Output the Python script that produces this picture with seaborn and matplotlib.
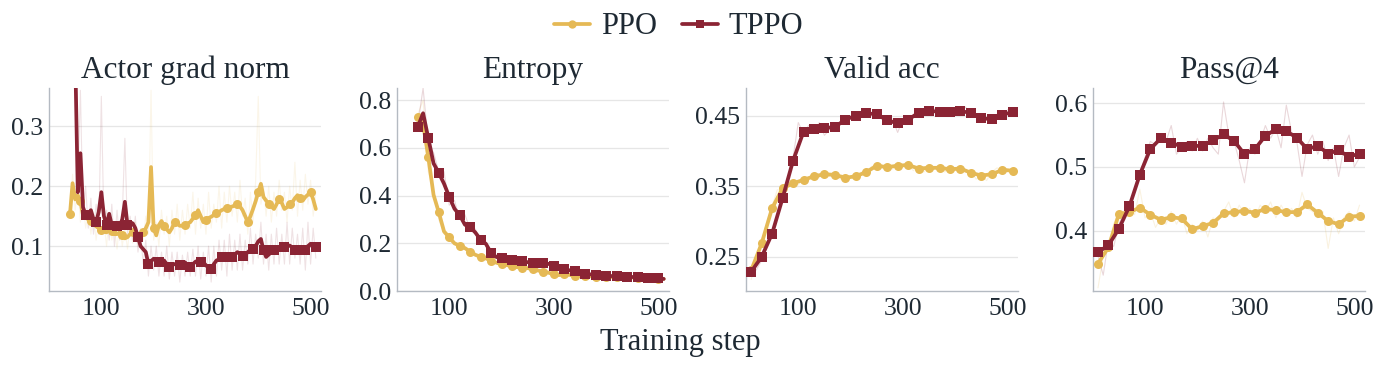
import numpy as np
import pandas as pd
import seaborn as sns
import matplotlib
matplotlib.use("Agg")
import matplotlib.pyplot as plt
from matplotlib.lines import Line2D

# ---------------- data ----------------
series_names = ["PPO", "TPPO"]
panel_titles = ["Actor grad norm", "Entropy", "Valid acc", "Pass@4"]
xtick_values = [100, 300, 500]

# Actor grad norm (smoothed, every 5 steps)
grad_steps_ppo = list(range(40, 515, 5))
grad_ppo = [0.153, 0.205, 0.178, 0.185, 0.175, 0.151, 0.147, 0.145, 0.142, 0.138,
            0.133, 0.130, 0.127, 0.124, 0.123, 0.127, 0.126, 0.120, 0.120, 0.123,
            0.118, 0.113, 0.115, 0.120, 0.123, 0.120, 0.115, 0.117, 0.123, 0.130,
            0.140, 0.232, 0.130, 0.118, 0.135, 0.142, 0.134, 0.128, 0.123, 0.130,
            0.140, 0.138, 0.134, 0.134, 0.136, 0.138, 0.140, 0.146, 0.152, 0.160,
            0.150, 0.140, 0.143, 0.147, 0.149, 0.152, 0.156, 0.157, 0.160, 0.162,
            0.163, 0.165, 0.166, 0.168, 0.171, 0.166, 0.160, 0.150, 0.140, 0.150,
            0.162, 0.175, 0.190, 0.204, 0.182, 0.176, 0.171, 0.166, 0.162, 0.170,
            0.179, 0.172, 0.162, 0.165, 0.170, 0.173, 0.180, 0.185, 0.180, 0.176,
            0.182, 0.186, 0.190, 0.178, 0.162]
grad_steps_tppo = list(range(50, 515, 5))
grad_tppo = [0.420, 0.190, 0.255, 0.165, 0.152, 0.154, 0.160, 0.145, 0.140, 0.157,
             0.190, 0.150, 0.135, 0.154, 0.135, 0.132, 0.133, 0.132, 0.145, 0.174,
             0.135, 0.140, 0.138, 0.130, 0.115, 0.100, 0.095, 0.090, 0.070, 0.075,
             0.079, 0.075, 0.073, 0.072, 0.076, 0.070, 0.065, 0.070, 0.070, 0.068,
             0.068, 0.064, 0.073, 0.068, 0.065, 0.070, 0.074, 0.076, 0.074, 0.073,
             0.068, 0.064, 0.062, 0.070, 0.076, 0.078, 0.082, 0.084, 0.081, 0.079,
             0.082, 0.086, 0.090, 0.087, 0.084, 0.086, 0.090, 0.094, 0.096, 0.100,
             0.108, 0.112, 0.093, 0.082, 0.086, 0.090, 0.093, 0.096, 0.097, 0.098,
             0.098, 0.100, 0.101, 0.098, 0.094, 0.090, 0.092, 0.093, 0.094, 0.100,
             0.104, 0.097, 0.098]
# Actor grad norm (raw)
grad_raw_ppo = [0.15, 0.22, 0.16, 0.20, 0.14, 0.17, 0.13, 0.16, 0.12, 0.155,
                0.11, 0.145, 0.12, 0.14, 0.10, 0.15, 0.11, 0.13, 0.095, 0.14,
                0.10, 0.13, 0.095, 0.135, 0.105, 0.14, 0.10, 0.13, 0.11, 0.15,
                0.12, 0.36, 0.11, 0.14, 0.10, 0.16, 0.12, 0.15, 0.10, 0.16,
                0.12, 0.17, 0.11, 0.16, 0.12, 0.17, 0.13, 0.19, 0.12, 0.18,
                0.13, 0.17, 0.12, 0.19, 0.13, 0.17, 0.14, 0.20, 0.13, 0.19,
                0.14, 0.20, 0.15, 0.19, 0.14, 0.21, 0.15, 0.18, 0.12, 0.19,
                0.14, 0.21, 0.35, 0.17, 0.20, 0.15, 0.20, 0.14, 0.19, 0.15,
                0.21, 0.16, 0.19, 0.14, 0.20, 0.16, 0.24, 0.15, 0.21, 0.16,
                0.22, 0.17, 0.21, 0.15, 0.19]
grad_raw_tppo = [0.60, 0.20, 0.36, 0.15, 0.20, 0.13, 0.18, 0.12, 0.17, 0.12,
                 0.35, 0.13, 0.16, 0.11, 0.17, 0.10, 0.16, 0.11, 0.15, 0.28,
                 0.12, 0.15, 0.11, 0.15, 0.09, 0.12, 0.07, 0.11, 0.05, 0.10,
                 0.06, 0.10, 0.05, 0.09, 0.05, 0.10, 0.045, 0.09, 0.05, 0.09,
                 0.04, 0.085, 0.05, 0.09, 0.05, 0.095, 0.05, 0.10, 0.045, 0.09,
                 0.05, 0.10, 0.04, 0.10, 0.05, 0.11, 0.06, 0.11, 0.05, 0.12,
                 0.06, 0.11, 0.06, 0.12, 0.06, 0.11, 0.07, 0.13, 0.07, 0.12,
                 0.08, 0.14, 0.07, 0.12, 0.06, 0.12, 0.07, 0.13, 0.07, 0.12,
                 0.07, 0.14, 0.07, 0.13, 0.08, 0.12, 0.07, 0.13, 0.06, 0.14,
                 0.07, 0.13, 0.08]

# Entropy (every 10 steps)
ent_steps = list(range(40, 515, 10))
ent_ppo = [0.730, 0.700, 0.560, 0.403, 0.330, 0.250, 0.225, 0.200, 0.190, 0.180,
           0.165, 0.152, 0.143, 0.137, 0.127, 0.119, 0.113, 0.109, 0.104, 0.100,
           0.098, 0.096, 0.092, 0.086, 0.081, 0.077, 0.070, 0.067, 0.071, 0.068,
           0.064, 0.063, 0.063, 0.062, 0.061, 0.060, 0.060, 0.059, 0.058, 0.058,
           0.058, 0.057, 0.056, 0.055, 0.054, 0.053, 0.052, 0.051]
ent_tppo = [0.689, 0.745, 0.640, 0.535, 0.495, 0.450, 0.395, 0.345, 0.318, 0.278,
            0.268, 0.245, 0.215, 0.198, 0.160, 0.143, 0.138, 0.135, 0.132, 0.130,
            0.124, 0.121, 0.119, 0.118, 0.116, 0.114, 0.105, 0.098, 0.092, 0.087,
            0.083, 0.078, 0.073, 0.070, 0.067, 0.066, 0.064, 0.063, 0.063, 0.061,
            0.060, 0.059, 0.058, 0.057, 0.055, 0.055, 0.054, 0.051]
ent_raw_ppo = [0.74, 0.80, 0.50, 0.42, 0.30, 0.24, 0.22, 0.20, 0.19, 0.18,
               0.16, 0.15, 0.14, 0.135, 0.125, 0.12, 0.11, 0.108, 0.10, 0.10,
               0.095, 0.095, 0.09, 0.085, 0.08, 0.078, 0.07, 0.07, 0.072, 0.065,
               0.065, 0.063, 0.063, 0.062, 0.061, 0.06, 0.06, 0.059, 0.058, 0.058,
               0.057, 0.056, 0.055, 0.054, 0.054, 0.053, 0.052, 0.051]
ent_raw_tppo = [0.70, 0.85, 0.62, 0.58, 0.50, 0.50, 0.36, 0.38, 0.30, 0.32,
                0.26, 0.26, 0.20, 0.20, 0.15, 0.15, 0.13, 0.14, 0.125, 0.13,
                0.12, 0.125, 0.115, 0.12, 0.11, 0.11, 0.10, 0.095, 0.09, 0.085,
                0.08, 0.078, 0.073, 0.07, 0.068, 0.066, 0.064, 0.063, 0.062, 0.06,
                0.06, 0.058, 0.057, 0.056, 0.055, 0.054, 0.053, 0.052]

# Valid acc (smoothed every 20 steps, raw every 10 steps)
eval_steps = list(range(10, 515, 20))
raw_steps = list(range(10, 515, 10))
acc_ppo = [0.231, 0.269, 0.319, 0.347, 0.354, 0.359, 0.364, 0.367, 0.366, 0.362,
           0.364, 0.370, 0.379, 0.377, 0.379, 0.380, 0.375, 0.376, 0.376, 0.374,
           0.375, 0.369, 0.365, 0.367, 0.373, 0.372]
acc_tppo = [0.229, 0.250, 0.283, 0.333, 0.386, 0.427, 0.431, 0.432, 0.434, 0.444,
            0.450, 0.453, 0.452, 0.443, 0.439, 0.444, 0.454, 0.457, 0.455, 0.455,
            0.456, 0.454, 0.446, 0.445, 0.451, 0.455]
acc_raw_ppo = [0.218, 0.245, 0.272, 0.300, 0.322, 0.345, 0.343, 0.352, 0.357, 0.352,
               0.362, 0.358, 0.366, 0.362, 0.370, 0.364, 0.368, 0.360, 0.364, 0.362,
               0.366, 0.370, 0.368, 0.378, 0.380, 0.376, 0.382, 0.374, 0.384, 0.378,
               0.380, 0.372, 0.378, 0.370, 0.380, 0.374, 0.378, 0.370, 0.376, 0.372,
               0.378, 0.370, 0.372, 0.360, 0.366, 0.358, 0.370, 0.376, 0.370, 0.375,
               0.370]
acc_raw_tppo = [0.224, 0.232, 0.245, 0.268, 0.280, 0.310, 0.335, 0.360, 0.390, 0.440,
                0.425, 0.436, 0.428, 0.440, 0.422, 0.430, 0.436, 0.440, 0.446, 0.448,
                0.452, 0.450, 0.455, 0.451, 0.456, 0.450, 0.442, 0.445, 0.426, 0.445,
                0.442, 0.450, 0.452, 0.460, 0.455, 0.460, 0.452, 0.458, 0.454, 0.458,
                0.455, 0.462, 0.452, 0.448, 0.445, 0.447, 0.443, 0.452, 0.449, 0.458,
                0.456]

# Pass@4
pass_ppo = [0.348, 0.374, 0.426, 0.429, 0.436, 0.425, 0.417, 0.421, 0.419, 0.402,
            0.407, 0.412, 0.427, 0.429, 0.431, 0.428, 0.434, 0.432, 0.429, 0.429,
            0.441, 0.428, 0.415, 0.410, 0.422, 0.423]
pass_tppo = [0.366, 0.377, 0.403, 0.438, 0.488, 0.528, 0.545, 0.538, 0.532, 0.533,
             0.533, 0.542, 0.551, 0.541, 0.520, 0.528, 0.549, 0.559, 0.556, 0.546,
             0.528, 0.533, 0.521, 0.526, 0.516, 0.521]
pass_raw_ppo = [0.310, 0.360, 0.380, 0.410, 0.430, 0.420, 0.440, 0.425, 0.465, 0.420,
                0.430, 0.405, 0.420, 0.410, 0.430, 0.410, 0.425, 0.395, 0.410, 0.400,
                0.415, 0.390, 0.420, 0.415, 0.430, 0.445, 0.420, 0.440, 0.425, 0.435,
                0.420, 0.440, 0.430, 0.445, 0.420, 0.440, 0.425, 0.435, 0.420, 0.460,
                0.435, 0.430, 0.420, 0.430, 0.372, 0.420, 0.395, 0.420, 0.430, 0.415,
                0.440]
pass_raw_tppo = [0.360, 0.330, 0.385, 0.375, 0.410, 0.430, 0.440, 0.465, 0.490, 0.515,
                 0.540, 0.535, 0.550, 0.540, 0.565, 0.520, 0.530, 0.540, 0.525, 0.545,
                 0.525, 0.545, 0.530, 0.520, 0.602, 0.550, 0.540, 0.510, 0.475, 0.530,
                 0.520, 0.540, 0.565, 0.545, 0.560, 0.530, 0.597, 0.555, 0.540, 0.485,
                 0.535, 0.550, 0.520, 0.540, 0.510, 0.530, 0.485, 0.530, 0.550, 0.500,
                 0.515]

# ---------------- style ----------------
C_PPO = "#E5B955"
C_TPPO = "#8B2434"
TEXT = "#1E2933"
sns.set_theme(style="whitegrid")
plt.rcParams["font.family"] = ["Liberation Serif", "DejaVu Serif"]
plt.rcParams["text.color"] = TEXT
plt.rcParams["axes.labelcolor"] = TEXT
plt.rcParams["xtick.color"] = TEXT
plt.rcParams["ytick.color"] = TEXT

fig = plt.figure(figsize=(13.85, 3.68), dpi=100)
lefts = [0.0354, 0.2866, 0.5386, 0.789]
axes = [fig.add_axes([l, 0.209, 0.1964, 0.552]) for l in lefts]

panels = [
    dict(smooth=[(grad_steps_ppo, grad_ppo), (grad_steps_tppo, grad_tppo)],
         raw=[(grad_steps_ppo, grad_raw_ppo), (grad_steps_tppo, grad_raw_tppo)],
         mev=4, ylim=(0.025, 0.364), yt=[0.1, 0.2, 0.3], ra=0.13),
    dict(smooth=[(ent_steps, ent_ppo), (ent_steps, ent_tppo)],
         raw=[(ent_steps, ent_raw_ppo), (ent_steps, ent_raw_tppo)],
         mev=2, ylim=(0.0, 0.851), yt=[0.0, 0.2, 0.4, 0.6, 0.8], ra=0.18),
    dict(smooth=[(eval_steps, acc_ppo), (eval_steps, acc_tppo)],
         raw=[(raw_steps, acc_raw_ppo), (raw_steps, acc_raw_tppo)],
         mev=1, ylim=(0.2016, 0.489), yt=[0.25, 0.35, 0.45], ra=0.18),
    dict(smooth=[(eval_steps, pass_ppo), (eval_steps, pass_tppo)],
         raw=[(raw_steps, pass_raw_ppo), (raw_steps, pass_raw_tppo)],
         mev=1, ylim=(0.305, 0.624), yt=[0.4, 0.5, 0.6], ra=0.18),
]
colors = [C_PPO, C_TPPO]
markers = ["o", "s"]

for ax, title, p in zip(axes, panel_titles, panels):
    for (xs, ys), c in zip(p["raw"], colors):
        df = pd.DataFrame({"step": xs, "v": ys})
        sns.lineplot(data=df, x="step", y="v", ax=ax, color=c, lw=0.8,
                     alpha=p["ra"], zorder=2)
    for (xs, ys), c, m, name in zip(p["smooth"], colors, markers, series_names):
        df = pd.DataFrame({"step": xs, "v": ys})
        sns.lineplot(data=df, x="step", y="v", ax=ax, color=c, lw=2.7,
                     marker=m, markersize=6.5, markeredgewidth=0,
                     markevery=p["mev"], zorder=3,
                     solid_joinstyle="round", solid_capstyle="round")
    ax.set_xlim(0, 520)
    ax.set_ylim(*p["ylim"])
    ax.set_xticks(xtick_values)
    ax.set_yticks(p["yt"])
    ax.set_yticklabels([f"{v:g}" if v != 0 else "0.0" for v in p["yt"]])
    ax.set_xlabel("")
    ax.set_ylabel("")
    ax.set_title(title, fontsize=22.5, color=TEXT, pad=7)
    ax.grid(axis="x", visible=False)
    ax.grid(axis="y", color="#e6e6e6", lw=0.9)
    for s in ["top", "right"]:
        ax.spines[s].set_visible(False)
    for s in ["left", "bottom"]:
        ax.spines[s].set_color("#b4bac2")
        ax.spines[s].set_linewidth(1.0)
    ax.tick_params(axis="x", length=3, width=0.8, color="#b4bac2",
                   labelsize=18.5, pad=2)
    ax.tick_params(axis="y", length=0, labelsize=18.5, pad=4)
    if ax.get_legend() is not None:
        ax.get_legend().remove()

fig.text(0.491, 0.068, "Training step", ha="center", va="center",
         fontsize=22, color=TEXT)

handles = [Line2D([0], [0], color=c, lw=2.7, marker=m, markersize=6,
                  markeredgewidth=0) for c, m in zip(colors, markers)]
fig.legend(handles, series_names, loc="center", bbox_to_anchor=(0.49, 0.927),
           ncol=2, frameon=False, fontsize=22, handlelength=1.2,
           handletextpad=0.35, columnspacing=0.8)

fig.savefig("out.png", dpi=100)
